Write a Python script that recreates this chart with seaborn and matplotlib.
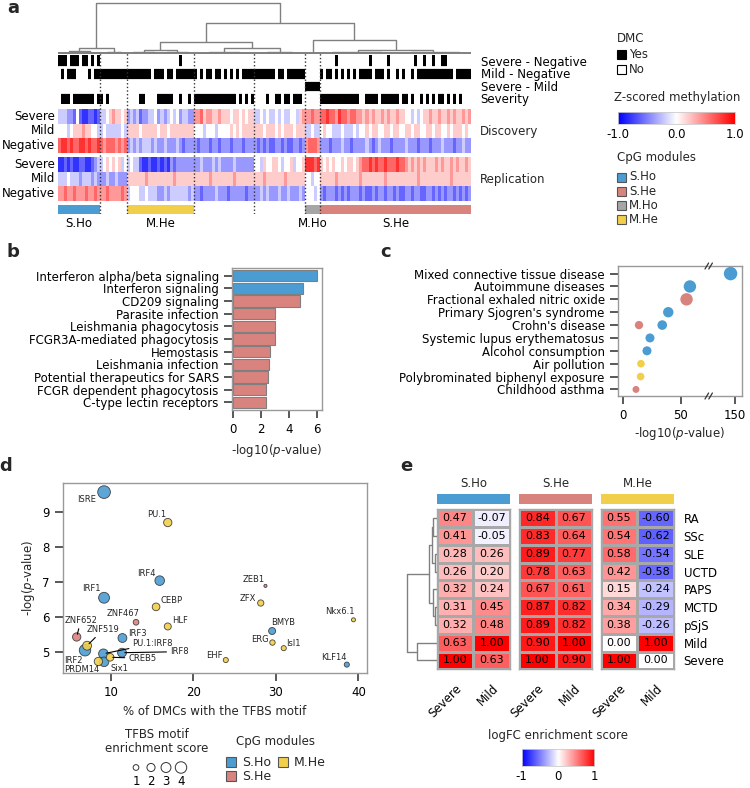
import numpy as np
import pandas as pd
import matplotlib
matplotlib.use("Agg")
import matplotlib.pyplot as plt
import seaborn as sns
from matplotlib.colors import ListedColormap
from matplotlib.patches import Rectangle
from matplotlib.lines import Line2D

sns.set_theme(style="ticks")
plt.rcParams.update({
    "font.family": ["DejaVu Sans"],
    "mathtext.fontset": "dejavusans",
    "font.size": 8.5,
    "xtick.labelsize": 8.5,
    "ytick.labelsize": 8.5,
    "axes.labelsize": 8.5,
    "axes.edgecolor": "#999999",
    "axes.linewidth": 1.0,
    "xtick.color": "#444444",
    "ytick.color": "#444444",
    "xtick.labelcolor": "black",
    "ytick.labelcolor": "black",
})

# ----------------------------------------------------------------- data
MOD_COLORS = {"S.Ho": "#4b9cd3", "S.He": "#d9837f", "M.Ho": "#a6a6a6", "M.He": "#f2cf4a"}

# panel a: CpG modules in dendrogram order (unnamed = no module bar)
module_names = ["S.Ho", "", "M.He", "", "", "M.Ho", "S.He"]
module_sizes = [14, 9, 22, 20, 17, 5, 50]

# methylation level per CpG column: digit 0 = -0.8, 4 = 0.0, 8 = +0.8
disc_severe = ["33322 14100 1101", "33456 5545", "23231 22334 23234 34233 22",
               "66756 65565 55455 45455", "33434 33434 33443 56", "66766",
               "77877 68776 77665 65655 65655 65544 34345 56556 55656 55656"]
disc_mild = ["44434 55565 5443", "34333 3343", "55554 55555 45545 55555 55",
             "44434 44344 44545 45555", "55545 55454 55545 55", "33433",
             "45443 33433 34344 54554 45545 54455 45544 55455 44545 55454"]
disc_negative = ["78878 77887 8778", "76777 6767", "23232 33323 22322 23212 22",
                 "21222 12212 22122 21222", "21212 11221 21122 12", "67776",
                 "22212 22322 12222 32123 22212 22232 22122 21222 32221 22322"]
rep_severe = ["00101 00110 0123", "34545 4534", "34331 00100 10102 12222 22",
              "22322 23232 22232 22222", "44354 45543 44534 45", "88878",
              "54545 44545 54567 78787 78777 87765 65656 55565 65565 65565"]
rep_mild = ["33343 33233 3232", "22322 3222", "55555 56555 55555 65555 55",
            "55555 65555 55565 55555", "55565 55555 65555 55", "44344",
            "55555 65555 55565 55555 56555 55555 55655 55555 55565 55555"]
rep_negative = ["66766 76667 6676", "66766 6676", "34443 34333 22323 33333 23",
                "22122 22322 21222 22122", "22323 22232 23222 32", "44434",
                "21222 12121 22212 11212 21221 21122 12211 22121 21221 21212"]

# DMC indicator rows (1 = yes)
dmc_severe_negative = ["11101 11011 0101", "00000 0000", "00000 00000 00000 00100 00",
                       "00000 00000 00000 00000", "00000 00000 00000 00", "00000",
                       "00000 10000 00000 01000 00100 00000 01001 00100 11000 00000"]
dmc_mild_negative = ["01011 10000 1011", "11111 1111", "11111 11101 11011 01111 11",
                     "10101 10110 10101 01111", "11111 11011 01111 11", "00000",
                     "10110 10101 01011 11011 10100 10100 10111 11111 11110 11111"]
dmc_severe_mild = ["00000 00000 0000", "00000 0000", "00000 00000 00000 00000 00",
                   "00000 00000 00000 00000", "00000 00000 00000 00", "11111",
                   "00000 00000 00000 00000 00000 00000 00000 00000 00000 00000"]
dmc_severity = ["01110 11111 1101", "10100 0000", "00001 10000 11111 00100 10",
                "11111 11111 11110 10101", "00001 00110 11011 10", "00000",
                "11111 11111 11100 11110 11111 10110 10010 10101 10101 01000"]

# column dendrogram over modules: (left, right, height); leaves 0..6, new nodes 7..
a_leaf_heights = [3, 2, 4, 2, 2, 1, 4]
a_merges = [(0, 1, 6), (3, 4, 6), (2, 8, 12), (5, 6, 14), (9, 10, 31), (7, 11, 51)]

# panel b
pathways = ["Interferon alpha/beta signaling", "Interferon signaling", "CD209 signaling",
            "Parasite infection", "Leishmania phagocytosis", "FCGR3A-mediated phagocytosis",
            "Hemostasis", "Leishmania infection", "Potential therapeutics for SARS",
            "FCGR dependent phagocytosis", "C-type lectin receptors"]
pathway_logp = [6.02, 4.98, 4.79, 2.99, 2.99, 2.99, 2.65, 2.56, 2.49, 2.39, 2.35]
pathway_module = ["S.Ho", "S.Ho", "S.He", "S.He", "S.He", "S.He", "S.He", "S.He", "S.He", "S.He", "S.He"]

# panel c
traits = ["Mixed connective tissue disease", "Autoimmune diseases", "Fractional exhaled nitric oxide",
          "Primary Sjogren's syndrome", "Crohn's disease", "Systemic lupus erythematosus",
          "Alcohol consumption", "Air pollution", "Polybrominated biphenyl exposure", "Childhood asthma"]
c_trait = ["Mixed connective tissue disease", "Autoimmune diseases", "Fractional exhaled nitric oxide",
           "Primary Sjogren's syndrome", "Crohn's disease", "Crohn's disease",
           "Systemic lupus erythematosus", "Alcohol consumption", "Air pollution",
           "Polybrominated biphenyl exposure", "Childhood asthma"]
c_logp = [146, 57.8, 54.9, 39.1, 33.9, 13.8, 23.3, 20.7, 15.5, 15.2, 11.2]
c_module = ["S.Ho", "S.Ho", "S.He", "S.Ho", "S.Ho", "S.He", "S.Ho", "S.Ho", "M.He", "M.He", "S.He"]
c_score = [4.7, 4.0, 4.0, 2.8, 2.4, 1.8, 2.1, 2.1, 1.5, 1.5, 1.25]

# panel d
tfbs = ["ISRE", "PU.1", "IRF4", "IRF1", "ZEB1", "CEBP", "ZFX", "ZNF467", "HLF", "Nkx6.1",
        "ZNF652", "BMYB", "IRF3", "IRF2", "ZNF519", "ERG", "Isl1", "PU.1:IRF8", "IRF8",
        "Six1", "CREB5", "PRDM14", "EHF", "KLF14"]
tfbs_pct = [9.15, 16.88, 15.9, 9.15, 28.73, 15.46, 28.16, 13.03, 16.88, 39.41,
            5.83, 29.54, 11.38, 6.84, 7.09, 29.58, 30.95, 9.07, 11.33,
            9.15, 9.88, 8.46, 23.92, 38.60]
tfbs_logp = [9.58, 8.71, 7.05, 6.56, 6.90, 6.30, 6.41, 5.86, 5.74, 5.93,
             5.44, 5.61, 5.41, 5.06, 5.19, 5.28, 5.12, 4.96, 4.99,
             4.73, 4.86, 4.74, 4.78, 4.65]
tfbs_module = ["S.Ho", "M.He", "S.Ho", "S.Ho", "S.He", "M.He", "M.He", "S.He", "M.He", "M.He",
               "S.He", "S.Ho", "S.Ho", "S.Ho", "M.He", "M.He", "M.He", "S.Ho", "S.Ho",
               "S.Ho", "M.He", "M.He", "M.He", "S.Ho"]
tfbs_score = [4.9, 2.1, 2.8, 3.6, 0.3, 1.8, 1.2, 1.0, 1.5, 0.5,
              2.1, 1.5, 2.4, 4.0, 2.4, 0.9, 0.8, 2.8, 2.4,
              2.8, 1.8, 2.1, 0.8, 0.8]
score_legend = [1, 2, 3, 4]

# panel e
e_rows = ["RA", "SSc", "SLE", "UCTD", "PAPS", "MCTD", "pSjS", "Mild", "Severe"]
e_cols = ["Severe", "Mild"]
e_blocks = ["S.Ho", "S.He", "M.He"]
sho_severe = [0.47, 0.41, 0.28, 0.26, 0.32, 0.31, 0.32, 0.63, 1.00]
sho_mild = [-0.07, -0.05, 0.26, 0.20, 0.24, 0.45, 0.48, 1.00, 0.63]
she_severe = [0.84, 0.83, 0.89, 0.78, 0.67, 0.87, 0.89, 0.90, 1.00]
she_mild = [0.67, 0.64, 0.77, 0.63, 0.61, 0.82, 0.82, 1.00, 0.90]
mhe_severe = [0.55, 0.54, 0.58, 0.42, 0.15, 0.34, 0.38, 0.00, 1.00]
mhe_mild = [-0.60, -0.62, -0.54, -0.58, -0.24, -0.29, -0.26, 1.00, 0.00]
e_merges = [(0, 1, 3.7), (2, 3, 1.7), (9, 10, 5.0), (5, 6, 1.7), (4, 12, 4.0),
            (11, 13, 7.4), (7, 8, 20.0), (14, 15, 29.4)]

# ----------------------------------------------------------------- helpers
W, H = 750, 788
fig = plt.figure(figsize=(7.5, 7.88), dpi=100)


def rect(x0, y0, x1, y1):
    return [x0 / W, 1 - y1 / H, (x1 - x0) / W, (y1 - y0) / H]


def fig_text(x, y, s, **kw):
    kw.setdefault("va", "center")
    return fig.text(x / W, 1 - y / H, s, **kw)


def fig_square(x, y, size, fc, ec="#555555", lw=0.8):
    fig.patches.append(Rectangle((x / W, 1 - (y + size) / H), size / W, size / H,
                                 transform=fig.transFigure, facecolor=fc,
                                 edgecolor=ec, linewidth=lw))


def decode(segs, scale=True):
    out = []
    for seg, n in zip(segs, module_sizes):
        s = seg.replace(" ", "")
        assert len(s) == n, (seg, n)
        out.extend(int(c) for c in s)
    arr = np.array(out, dtype=float)
    return (arr - 4) / 5 if scale else arr


def draw_dendro(ax, leaf_pos, leaf_h, merges, vertical=True, **kw):
    pos, hgt = list(leaf_pos), list(leaf_h)
    for l, r, h in merges:
        xs = [pos[l], pos[l], pos[r], pos[r]]
        ys = [hgt[l], h, h, hgt[r]]
        if vertical:
            ax.plot(xs, ys, **kw)
        else:
            ax.plot(ys, xs, **kw)
        pos.append((pos[l] + pos[r]) / 2)
        hgt.append(h)


# ----------------------------------------------------------------- panel a
sizes = np.array(module_sizes)
ncols = sizes.sum()
bounds = np.cumsum(sizes)
starts = bounds - sizes
centers = starts + sizes / 2
HX0, HX1 = 58, 471

ax_den = fig.add_axes(rect(HX0, 2, HX1, 54))
ax_den.set_xlim(0, ncols)
ax_den.set_ylim(0, 52)
ax_den.set_axis_off()
dkw = dict(color="#808080", lw=1.0, solid_capstyle="butt")
for a0, w, h in zip(starts, sizes, a_leaf_heights):
    ax_den.plot([a0 + w * .25] * 2 + [a0 + w * .75] * 2, [0.6, h, h, 0.6], **dkw)
    ax_den.plot([a0 + w * .08] * 2 + [a0 + w * .4] * 2, [0.6, h * .5, h * .5, 0.6], **dkw)
    ax_den.plot([a0 + w * .6] * 2 + [a0 + w * .92] * 2, [0.6, h * .5, h * .5, 0.6], **dkw)
ax_den.plot([0, ncols], [0.6, 0.6], color="#808080", lw=1.4)
draw_dendro(ax_den, centers, a_leaf_heights, a_merges, vertical=True, **dkw)

dmc = pd.DataFrame([decode(dmc_severe_negative, False), decode(dmc_mild_negative, False),
                    decode(dmc_severe_mild, False), decode(dmc_severity, False)],
                   index=["Severe - Negative", "Mild - Negative", "Severe - Mild", "Severity"])
ax_dmc = fig.add_axes(rect(HX0, 55, HX1, 104))
sns.heatmap(dmc, ax=ax_dmc, cmap=ListedColormap(["white", "black"]), vmin=0, vmax=1,
            cbar=False, xticklabels=False, yticklabels=True)
for i in range(1, 4):
    ax_dmc.axhline(i, color="white", lw=2.0)
ax_dmc.yaxis.tick_right()
ax_dmc.set_yticks(np.arange(4) + 0.5)
ax_dmc.set_yticklabels(dmc.index, rotation=0, ha="left")
ax_dmc.tick_params(axis="y", length=0, pad=7)
ax_dmc.set_ylabel("")

grp = ["Severe", "Mild", "Negative"]
for rows, (y0, y1), title in [((disc_severe, disc_mild, disc_negative), (109, 153), "Discovery"),
                              ((rep_severe, rep_mild, rep_negative), (157, 201), "Replication")]:
    ax = fig.add_axes(rect(HX0, y0, HX1, y1))
    df = pd.DataFrame([decode(r) for r in rows], index=grp)
    sns.heatmap(df, ax=ax, cmap="bwr", vmin=-1, vmax=1, cbar=False,
                xticklabels=False, yticklabels=True)
    ax.set_yticklabels(grp, rotation=0)
    ax.tick_params(axis="y", length=0, pad=2)
    ax.text(1 + 9 / (HX1 - HX0), 0.5, title, transform=ax.transAxes, va="center", ha="left")

codes_map = {"": 0, "S.Ho": 1, "S.He": 2, "M.Ho": 3, "M.He": 4}
codes = np.repeat([codes_map[n] for n in module_names], module_sizes)
ax_mod = fig.add_axes(rect(HX0, 205, HX1, 214))
sns.heatmap(codes[None, :], ax=ax_mod, cbar=False, vmin=-0.5, vmax=4.5,
            cmap=ListedColormap(["white", MOD_COLORS["S.Ho"], MOD_COLORS["S.He"],
                                 MOD_COLORS["M.Ho"], MOD_COLORS["M.He"]]),
            xticklabels=False, yticklabels=False)
named = [i for i, n in enumerate(module_names) if n]
ax_mod.set_xticks(centers[named])
ax_mod.set_xticklabels([module_names[i] for i in named], rotation=0)
ax_mod.tick_params(axis="x", length=0, pad=2)

ax_ov = fig.add_axes(rect(HX0, 53, HX1, 214))
ax_ov.set_xlim(0, ncols)
ax_ov.set_ylim(0, 1)
ax_ov.set_axis_off()
ax_ov.vlines(bounds[:-1], 0, 1, colors="#333333", linestyles=(0, (1, 1.6)), lw=1.0)

# legends of panel a
fig_text(617, 39, "DMC")
fig_square(617, 50, 9, "black", "black")
fig_text(629, 54.5, "Yes")
fig_square(617, 65, 9, "white", "black")
fig_text(629, 69.5, "No")
fig_text(614, 98, "Z-scored methylation")
ax_cb = fig.add_axes(rect(618, 112, 735, 124))
ax_cb.imshow(np.linspace(-1, 1, 256)[None, :], cmap="bwr", aspect="auto",
             extent=(-1, 1, 0, 1), vmin=-1, vmax=1)
ax_cb.set_yticks([])
ax_cb.set_xticks([-1, 0, 1])
ax_cb.set_xticklabels(["-1.0", "0.0", "1.0"])
ax_cb.tick_params(axis="x", length=0, pad=3)
for s in ax_cb.spines.values():
    s.set_color("#cccccc")
    s.set_linewidth(0.6)
fig_text(617, 157, "CpG modules")
for i, name in enumerate(["S.Ho", "S.He", "M.Ho", "M.He"]):
    yc = 177 + i * 14.3
    fig_square(617, yc - 4.5, 9, MOD_COLORS[name])
    fig_text(629, yc, name)

# ----------------------------------------------------------------- panel b
axb = fig.add_axes(rect(232, 268, 322, 410))
df_b = pd.DataFrame({"pathway": pathways, "logp": pathway_logp, "module": pathway_module})
sns.barplot(data=df_b, y="pathway", x="logp", hue="module", palette=MOD_COLORS, dodge=False,
            width=0.9, saturation=1, edgecolor="#7f7f7f", linewidth=0.8, legend=False, ax=axb)
axb.set_ylim(10.6, -0.6)
axb.set_xlim(-0.07, 6.36)
axb.set_xticks([0, 2, 4, 6])
axb.set_ylabel("")
axb.set_xlabel("-log10($p$-value)")

# ----------------------------------------------------------------- panel c
df_c = pd.DataFrame({"trait": c_trait, "logp": c_logp, "module": c_module, "score": c_score})
df_c["ypos"] = [traits.index(t) for t in c_trait]
axc1 = fig.add_axes(rect(618, 266, 709, 396))
axc2 = fig.add_axes(rect(709, 266, 742, 396))
KC = 20.0
for ax in (axc1, axc2):
    sns.scatterplot(data=df_c, x="logp", y="ypos", hue="module", palette=MOD_COLORS,
                    size="score", sizes=(KC * min(c_score), KC * max(c_score)),
                    size_norm=(min(c_score), max(c_score)), linewidth=0, alpha=1,
                    legend=False, ax=ax)
    ax.set_ylim(9.51, -0.59)
    ax.set_xlabel("")
    ax.set_ylabel("")
axc1.set_xlim(-4.33, 74.3)
axc2.set_xlim(127.5, 155.8)
axc1.set_xticks([0, 50])
axc2.set_xticks([150])
axc1.set_yticks(range(len(traits)))
axc1.set_yticklabels(traits)
axc2.set_yticks([])
axc1.spines["right"].set_visible(False)
axc2.spines["left"].set_visible(False)
for yy in (266, 396):
    for off in (-2.2, 1.6):
        xx = 709 + off
        fig.add_artist(Line2D([(xx - 1.8) / W, (xx + 1.8) / W],
                              [1 - (yy + 3) / H, 1 - (yy - 3) / H], color="#333333", lw=0.9))
fig_text(680, 433, "-log10($p$-value)", ha="center")

# ----------------------------------------------------------------- panel d
df_d = pd.DataFrame({"tfbs": tfbs, "pct": tfbs_pct, "logp": tfbs_logp,
                     "module": tfbs_module, "score": tfbs_score})
KD = 17.0
smin, smax = min(tfbs_score), max(tfbs_score)
axd = fig.add_axes(rect(63, 483, 367, 673))
sns.scatterplot(data=df_d, x="pct", y="logp", hue="module", palette=MOD_COLORS,
                size="score", sizes=(KD * smin, KD * smax), size_norm=(smin, smax),
                edgecolor="#333333", linewidth=0.6, alpha=0.9, legend=False, ax=axd)
axd.set_xlim(4.17, 41.05)
axd.set_ylim(4.41, 9.84)
axd.set_xticks([10, 20, 30, 40])
axd.set_yticks([5, 6, 7, 8, 9])
axd.set_xlabel("% of DMCs with the TFBS motif")
axd.set_ylabel("-log($p$-value)")

label_offsets = {"ISRE": (-17, -7), "PU.1": (-11, 8), "IRF4": (-13, 7), "IRF1": (-13, 9),
                 "ZEB1": (-12, 6), "CEBP": (15, 6), "ZFX": (-13, 5), "ZNF467": (-13, 9),
                 "HLF": (12, 6), "Nkx6.1": (-14, 8), "ZNF652": (4, 16), "BMYB": (11, 9),
                 "IRF3": (15, 5), "ZNF519": (16, 16), "ERG": (-13, 3), "Isl1": (10, 5),
                 "IRF2": (-12, -10), "PU.1:IRF8": (49, 10), "IRF8": (57, 1), "CREB5": (32, -1),
                 "PRDM14": (-17, -8), "Six1": (15, -7), "EHF": (-11, 5), "KLF14": (-13, 7)}
leader = {"ZNF652", "ZNF519", "PU.1:IRF8", "IRF8", "CREB5"}
for name, x, y in zip(tfbs, tfbs_pct, tfbs_logp):
    dx, dy = label_offsets[name]
    ap = dict(arrowstyle="-", lw=0.8, color="black", shrinkA=0, shrinkB=2) if name in leader else None
    axd.annotate(name, (x, y), xytext=(dx, dy), textcoords="offset pixels",
                 ha="center", va="center", fontsize=6, arrowprops=ap)

# size legend
fig_text(157, 734, "TFBS motif", ha="center")
fig_text(157, 749, "enrichment score", ha="center")
axl = fig.add_axes(rect(128.5, 761, 188.5, 774))
sns.scatterplot(x=score_legend, y=[0] * len(score_legend), size=score_legend,
                sizes=(KD * min(score_legend), KD * max(score_legend)),
                size_norm=(min(score_legend), max(score_legend)),
                color="white", edgecolor="#333333", linewidth=0.7, legend=False, ax=axl)
axl.set_xlim(0.5, 4.5)
axl.set_ylim(-1, 1)
axl.set_xticks(score_legend)
axl.set_xticklabels([str(v) for v in score_legend])
axl.set_yticks([])
axl.tick_params(axis="x", length=0, pad=0.5)
for s in axl.spines.values():
    s.set_visible(False)

fig_text(275, 742, "CpG modules", ha="center")
for name, (x, y) in {"S.Ho": (226, 757), "M.He": (278, 757), "S.He": (226, 771)}.items():
    fig_square(x, y, 10, MOD_COLORS[name])
    fig_text(x + 16, y + 5, name, fontsize=9)

# ----------------------------------------------------------------- panel e
block_data = {"S.Ho": (sho_severe, sho_mild), "S.He": (she_severe, she_mild),
              "M.He": (mhe_severe, mhe_mild)}
block_x = [(436.7, 510), (519, 592.3), (600.7, 674)]
EY0, EY1 = 509.3, 669.3
for bi, (name, (x0, x1)) in enumerate(zip(e_blocks, block_x)):
    sev, mil = block_data[name]
    dfe = pd.DataFrame({"Severe": sev, "Mild": mil}, index=e_rows)
    ax = fig.add_axes(rect(x0, EY0, x1, EY1))
    last = bi == len(e_blocks) - 1
    sns.heatmap(dfe, ax=ax, cmap="bwr", vmin=-1, vmax=1, cbar=False, annot=True, fmt=".2f",
                annot_kws={"color": "black", "fontsize": 8}, linewidths=1, linecolor="#a8a8a8",
                xticklabels=e_cols, yticklabels=e_rows if last else False)
    for s in ax.spines.values():
        s.set_visible(True)
        s.set_color("#a8a8a8")
    ax.set_xticklabels(e_cols, rotation=45, ha="right", rotation_mode="anchor")
    ax.tick_params(axis="x", length=0, pad=9)
    if last:
        ax.yaxis.tick_right()
        ax.set_yticklabels(e_rows, rotation=0, ha="left")
        ax.tick_params(axis="y", length=0, pad=7)
    ax.set_ylabel("")
    axt = fig.add_axes(rect(x0, 494.3, x1, 504.3))
    axt.set_facecolor(MOD_COLORS[name])
    axt.set_xticks([])
    axt.set_yticks([])
    for s in axt.spines.values():
        s.set_visible(False)
    axt.set_title(name, fontsize=8.5, pad=5)

axed = fig.add_axes(rect(405, EY0, 436.7, EY1))
axed.set_xlim(31.7, 0)
axed.set_ylim(len(e_rows), 0)
axed.set_axis_off()
draw_dendro(axed, np.arange(len(e_rows)) + 0.5, [0] * len(e_rows), e_merges,
            vertical=False, color="#808080", lw=1.0)

fig_text(558, 735, "logFC enrichment score", ha="center")
axe_cb = fig.add_axes(rect(521.7, 749, 594, 766))
axe_cb.imshow(np.linspace(-1, 1, 256)[None, :], cmap="bwr", aspect="auto",
              extent=(-1, 1, 0, 1), vmin=-1, vmax=1)
axe_cb.set_yticks([])
axe_cb.set_xticks([-1, 0, 1])
axe_cb.set_xticklabels(["-1", "0", "1"])
axe_cb.tick_params(axis="x", length=0, pad=3)
for s in axe_cb.spines.values():
    s.set_color("#cccccc")
    s.set_linewidth(0.6)

# ----------------------------------------------------------------- panel letters
for letter, (x, y) in {"a": (13, 8), "b": (13, 252), "c": (386, 252),
                       "d": (6, 466), "e": (406, 466)}.items():
    fig_text(x, y, letter, ha="center", fontsize=13, fontweight="bold")

fig.savefig("out.png", dpi=100)
